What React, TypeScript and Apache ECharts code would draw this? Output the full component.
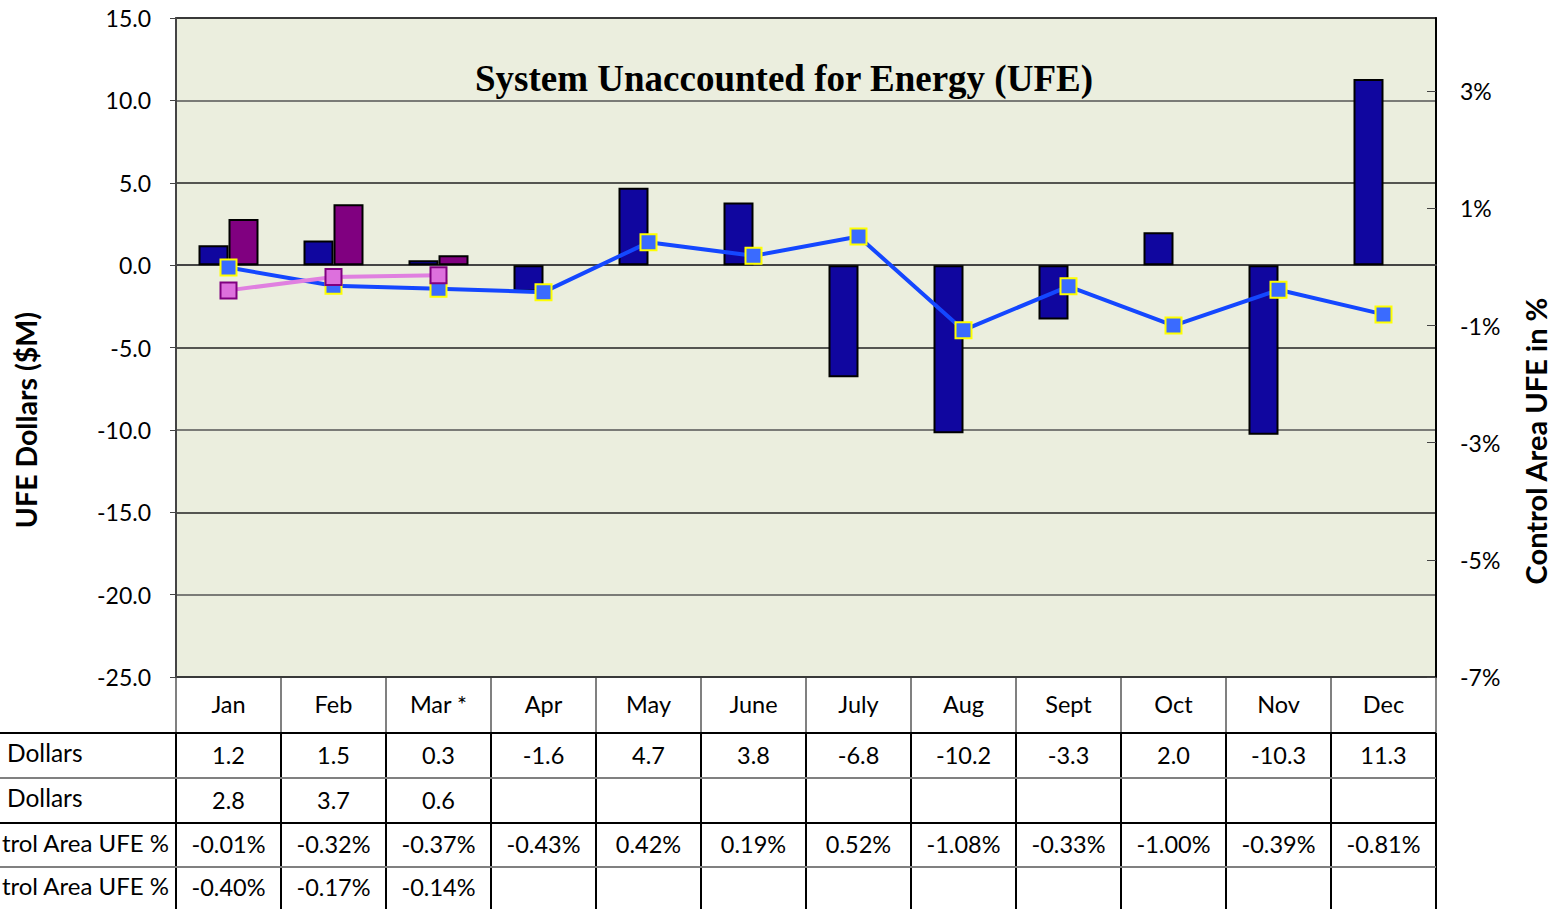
import React, { useEffect, useRef } from "react";
import * as echarts from "echarts";

const months = ["Jan", "Feb", "Mar *", "Apr", "May", "June", "July", "Aug", "Sept", "Oct", "Nov", "Dec"];
const dollarsCurrent = [1.2, 1.5, 0.3, -1.6, 4.7, 3.8, -6.8, -10.2, -3.3, 2.0, -10.3, 11.3];
const dollarsPrior: (number | null)[] = [2.8, 3.7, 0.6, null, null, null, null, null, null, null, null, null];
const pctCurrent = [-0.01, -0.32, -0.37, -0.43, 0.42, 0.19, 0.52, -1.08, -0.33, -1.0, -0.39, -0.81];
const pctPrior: (number | null)[] = [-0.4, -0.17, -0.14, null, null, null, null, null, null, null, null, null];
const rowLabels = ["Dollars", "Dollars", "trol Area UFE %", "trol Area UFE %"];
const titleText = "System Unaccounted for Energy (UFE)";
const leftAxisName = "UFE Dollars ($M)";
const rightAxisName = "Control Area UFE in %";

const W = 1562;
const H = 909;
const GL = 176;
const GT = 18;
const GR = 1436;
const GB = 677;
const FONT = "Lato, 'Open Sans', sans-serif";

export default function App() {
  const ref = useRef<HTMLDivElement>(null);
  useEffect(() => {
    if (!ref.current) return;
    const chart = echarts.init(ref.current, null, { renderer: "svg" });
    const cw = (GR - GL) / months.length;
    const rowEdges = [GB, 733, 778, 823, 867, H];
    const graphics: any[] = [];
    for (let i = 0; i <= months.length; i++) {
      const x = GL + i * cw;
      graphics.push({ type: "line", shape: { x1: x, y1: GB, x2: x, y2: 733 }, style: { stroke: "#808080", lineWidth: 2 }, silent: true });
      graphics.push({ type: "line", shape: { x1: x, y1: 733, x2: x, y2: H }, style: { stroke: "#000", lineWidth: 2 }, silent: true });
    }
    const hColors = ["#000", "#808080", "#000", "#808080"];
    for (let r = 1; r <= 4; r++) {
      graphics.push({ type: "line", shape: { x1: 0, y1: rowEdges[r], x2: GR, y2: rowEdges[r] }, style: { stroke: hColors[r - 1], lineWidth: 2 }, silent: true });
    }
    const rows: string[][] = [
      dollarsCurrent.map((v) => v.toFixed(1)),
      dollarsPrior.map((v) => (v == null ? "" : v.toFixed(1))),
      pctCurrent.map((v) => v.toFixed(2) + "%"),
      pctPrior.map((v) => (v == null ? "" : v.toFixed(2) + "%")),
    ];
    rows.forEach((row, r) => {
      const yc = (rowEdges[r + 1] + rowEdges[r + 2]) / 2;
      row.forEach((t, i) => {
        if (!t) return;
        graphics.push({ type: "text", x: GL + (i + 0.5) * cw, y: yc - 1, style: { text: t, align: "center", verticalAlign: "middle", font: `23.5px ${FONT}`, fill: "#000" }, silent: true });
      });
      const lbl = rowLabels[r];
      const isPct = r >= 2;
      graphics.push({
        type: "text",
        x: isPct ? 169 : 7,
        y: yc - 3,
        style: { text: lbl, align: isPct ? "right" : "left", verticalAlign: "middle", font: `${isPct ? 24 : 24.5}px ${FONT}`, fill: "#000" },
        silent: true,
      });
    });
    graphics.push({ type: "text", x: 784, y: 78, z: 10, style: { text: titleText, align: "center", verticalAlign: "middle", font: `bold 37px 'Liberation Serif', 'Times New Roman', serif`, fill: "#000" }, silent: true });
    graphics.push({ type: "text", x: 26, y: 420, rotation: Math.PI / 2, style: { text: leftAxisName, align: "center", verticalAlign: "middle", font: `bold 28.5px ${FONT}`, fill: "#000" }, silent: true });
    graphics.push({ type: "text", x: 1535, y: 441, rotation: Math.PI / 2, style: { text: rightAxisName, align: "center", verticalAlign: "middle", font: `bold 29px ${FONT}`, fill: "#000" }, silent: true });

    chart.setOption({
      animation: false,
      backgroundColor: "#fff",
      grid: { left: GL, top: GT, width: GR - GL, height: GB - GT, show: true, backgroundColor: "#EBEEDE", borderColor: "#808080", borderWidth: 2, containLabel: false },
      xAxis: {
        type: "category",
        data: months,
        axisLine: { show: true, lineStyle: { color: "#444", width: 2 } },
        axisTick: { show: false },
        axisLabel: { color: "#000", fontSize: 23.5, fontFamily: FONT, margin: 15 },
      },
      yAxis: [
        {
          type: "value",
          min: -25,
          max: 15,
          interval: 5,
          position: "left",
          axisLine: { show: true, lineStyle: { color: "#444", width: 2 } },
          axisTick: { show: true, length: 6, lineStyle: { color: "#444" } },
          axisLabel: { color: "#000", fontSize: 23, fontFamily: FONT, margin: 25, formatter: (v: number) => v.toFixed(1) },
          splitLine: { show: true, lineStyle: { color: ["#222", "#555"], width: 1.5 } },
        },
        {
          type: "value",
          min: -7,
          max: 4.25,
          interval: 2,
          position: "right",
          axisLine: { show: true, lineStyle: { color: "#000", width: 2 } },
          axisTick: { show: true, inside: true, length: 9, lineStyle: { color: "#444" } },
          axisLabel: { color: "#000", fontSize: 23, fontFamily: FONT, margin: 24, showMaxLabel: false, formatter: (v: number) => `${Math.round(v)}%` },
          splitLine: { show: false },
        },
      ],
      series: [
        { type: "bar", yAxisIndex: 0, data: dollarsCurrent, barWidth: 30, barGap: "0%", itemStyle: { color: "#10069F", borderColor: "#000", borderWidth: 2 } },
        { type: "bar", yAxisIndex: 0, data: dollarsPrior, barWidth: 30, barGap: "0%", itemStyle: { color: "#800080", borderColor: "#000", borderWidth: 2 } },
        {
          type: "line",
          yAxisIndex: 1,
          data: pctCurrent,
          symbol: "rect",
          symbolSize: 16,
          lineStyle: { color: "#1447FF", width: 4 },
          itemStyle: { color: "#3A6BFF", borderColor: "#FFFF00", borderWidth: 2 },
          z: 5,
        },
        {
          type: "line",
          yAxisIndex: 1,
          data: pctPrior,
          symbol: "rect",
          symbolSize: 16,
          lineStyle: { color: "#E080E0", width: 4 },
          itemStyle: { color: "#DD70DD", borderColor: "#800080", borderWidth: 2 },
          z: 6,
        },
      ],
      graphic: graphics,
    });
    return () => chart.dispose();
  }, []);
  return <div ref={ref} style={{ position: "absolute", left: 0, top: 0, width: W, height: H }} />;
}
